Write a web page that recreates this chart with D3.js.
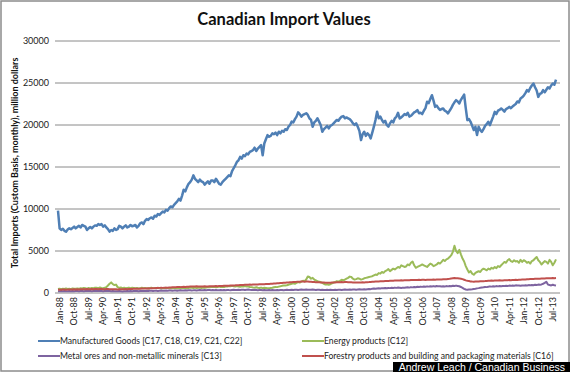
<!DOCTYPE html>
<html>
<head>
<meta charset="utf-8">
<script src="https://cdn.jsdelivr.net/npm/d3@7"></script>
<style>
  body { margin: 0; background: #fff; }
  svg { display: block; font-family: Lato, "Open Sans", sans-serif; }
</style>
</head>
<body>
<svg id="chart" width="570" height="372"></svg>
<script>
// monthly values, Jan-88 .. Oct-13, million dollars
const manufactured = [
  9800, 7700, 7500, 7650, 7400, 7300, 7550, 7700, 7600, 7750, 7900, 7700,
  7850, 8000, 7800, 8100, 8000, 7900, 7500, 7700, 7850, 7700, 7900, 8050,
  8000, 8200, 8100, 8200, 7900, 8050, 7800, 7600, 7300, 7500, 7400, 7700,
  7500, 7600, 8000, 7900, 7700, 7900, 8050, 7800, 7900, 8100, 7950, 8000,
  8100, 7800, 8000, 8300, 8400, 8200, 8600, 8800, 8700, 8900, 9000, 8850,
  9200, 9100, 9400, 9300, 9500, 9700, 9600, 9900, 9800, 10100, 10300, 10200,
  10500, 10700, 10900, 11200, 11000, 11600, 12300, 12100, 12600, 13000, 13200, 13500,
  14000, 13600, 13400, 13200, 13500, 13300, 13200, 12900, 13100, 13300, 13000, 13400,
  13400, 13200, 13600, 13300, 13000, 12900, 13200, 13400, 13600, 13800, 14000, 13900,
  14500, 14850, 15200, 15600, 15800, 16200, 16000, 16400, 16300, 16600, 16500, 16800,
  16900, 17000, 17300, 16900, 17200, 17400, 17600, 16400, 17800, 18300, 18800, 18600,
  18700, 19000, 18900, 19100, 18800, 19200, 19000, 19300, 19200, 19500, 19400, 19800,
  20000, 20400, 20300, 20700, 21000, 21500, 21300, 21000, 21200, 21300, 21400, 21200,
  20800, 20600, 19800, 20300, 20500, 20800, 20400, 20000, 19200, 19500, 19700, 19900,
  19600, 19900, 20000, 20200, 20400, 20600, 20500, 20800, 21000, 21060, 20800, 20900,
  20800, 20700, 20500, 20200, 20000, 20200, 19800, 19300, 18200, 18900, 19200, 18700,
  19000, 18800, 18400, 19100, 19800, 20600, 21570, 20800, 21000, 20600, 20300, 20500,
  20000, 19800, 20200, 20500, 20300, 20800, 21000, 21450, 20780, 20900, 21100, 21300,
  21200, 21450, 21000, 21100, 21300, 21500, 21600, 21770, 21400, 21450, 21300, 21700,
  22000, 22760, 22600, 23100, 23550, 22900, 22160, 22300, 22000, 21800, 21900, 21970,
  21700, 21600, 21380, 21700, 22000, 22400, 22700, 22960, 22800, 22560, 23000, 23300,
  23630, 22000, 20580, 20700, 20380, 19900, 19400, 19800, 18800, 19780, 19400, 19190,
  19500, 19900, 20100, 20380, 19990, 20500, 21000, 21570, 21300, 21700, 21800, 21970,
  21800, 21600, 21900, 22000, 22160, 22000, 22200, 22360, 22500, 22800, 22700, 23160,
  23300, 23500, 23800, 24150, 24000, 24400, 24700, 24940, 24500, 24100, 23350, 23700,
  23800, 24150, 23900, 24200, 24500, 24350, 24700, 24940, 24800, 25400
];

const energy = [
  480, 520, 450, 500, 470, 530, 490, 510, 460, 540, 500, 520,
  550, 500, 580, 530, 600, 560, 520, 590, 550, 610, 580, 640,
  620, 580, 650, 600, 560, 620, 700, 900, 1100, 1260, 1050, 950,
  1000, 700, 600, 650, 580, 620, 560, 600, 640, 580, 620, 600,
  560, 600, 540, 580, 620, 560, 600, 580, 540, 600, 620, 580,
  600, 560, 620, 580, 540, 600, 560, 620, 580, 550, 600, 570,
  560, 600, 540, 580, 560, 620, 600, 580, 560, 600, 640, 620,
  600, 640, 580, 620, 660, 600, 640, 620, 660, 700, 680, 720,
  700, 740, 680, 720, 760, 700, 740, 720, 780, 760, 820, 800,
  850, 800, 760, 820, 780, 740, 800, 760, 820, 780, 760, 720,
  700, 660, 640, 680, 620, 600, 640, 580, 620, 600, 560, 580,
  600, 620, 680, 720, 700, 760, 800, 850, 880, 900, 920, 980,
  1050, 1100, 1150, 1100, 1200, 1300, 1250, 1350, 1450, 1400, 1600, 1970,
  1900, 1700, 1800, 1600, 1500, 1400, 1350, 1300, 1200, 1100, 1000, 1050,
  990, 1050, 1150, 1250, 1300, 1400, 1350, 1450, 1580, 1500, 1600, 1700,
  1800, 1950, 1900, 1700, 1600, 1650, 1750, 1700, 1600, 1650, 1750, 1800,
  1850, 1900, 1950, 2000, 2100, 2200, 2150, 2370, 2300, 2500, 2400, 2600,
  2700, 2850, 2600, 2750, 2900, 2800, 2950, 3100, 3000, 3300, 3200, 3100,
  3160, 3400, 3300, 3600, 3750, 3300, 3000, 3100, 3200, 3300, 3400, 3300,
  3200, 3100, 3300, 3500, 3400, 3200, 3300, 3400, 3600, 3500, 3700, 3950,
  3800, 4000, 4100, 4280, 4500, 4900, 5620, 5000, 4750, 5140, 4600, 4100,
  3750, 3200, 2800, 2450, 2600, 2300, 2170, 2400, 2500, 2600, 2500, 2770,
  2900, 2800, 2700, 2900, 2800, 3000, 2900, 3100, 2950, 3200, 3100, 3300,
  3500, 3700, 3600, 3900, 4040, 3800, 3700, 3900, 3750, 3800, 3600, 3950,
  3700, 3900, 3800, 3600, 3700, 3500, 3800, 3900, 4100, 4280, 3900, 3700,
  3400, 3600, 3800, 3700, 3500, 3950, 3700, 3300, 3600, 4000
];

const metalOres = [
  220, 200, 230, 210, 240, 220, 200, 230, 210, 240, 220, 230,
  240, 220, 250, 230, 210, 240, 260, 230, 250, 220, 240, 260,
  250, 230, 260, 240, 220, 250, 230, 260, 240, 220, 230, 210,
  220, 200, 230, 210, 190, 220, 200, 230, 210, 240, 220, 230,
  230, 250, 220, 240, 260, 230, 250, 270, 240, 260, 280, 250,
  260, 280, 250, 270, 290, 260, 280, 300, 270, 290, 310, 280,
  290, 310, 280, 300, 320, 290, 310, 330, 300, 320, 340, 310,
  320, 340, 310, 330, 350, 320, 340, 360, 330, 350, 370, 340,
  350, 330, 360, 340, 320, 350, 330, 360, 340, 370, 350, 340,
  360, 380, 350, 370, 390, 360, 380, 400, 370, 390, 410, 380,
  370, 350, 380, 360, 340, 370, 350, 330, 360, 340, 320, 350,
  330, 350, 320, 340, 360, 330, 350, 370, 340, 360, 380, 350,
  370, 390, 360, 380, 400, 370, 390, 410, 380, 400, 420, 390,
  400, 380, 410, 390, 370, 400, 380, 360, 390, 370, 350, 380,
  360, 380, 350, 370, 390, 360, 380, 400, 370, 390, 410, 380,
  400, 420, 390, 410, 430, 400, 420, 440, 410, 430, 450, 420,
  450, 480, 460, 500, 530, 500, 540, 570, 540, 580, 560, 590,
  570, 600, 580, 620, 600, 640, 610, 650, 630, 600, 640, 620,
  650, 680, 640, 700, 670, 720, 690, 740, 710, 760, 730, 780,
  750, 790, 760, 800, 770, 820, 780, 830, 790, 810, 770, 800,
  780, 820, 790, 840, 810, 860, 830, 880, 840, 800, 720, 620,
  500, 420, 390, 410, 430, 450, 480, 510, 550, 580, 620, 650,
  680, 720, 700, 750, 790, 760, 800, 780, 820, 790, 830, 810,
  840, 820, 860, 840, 880, 850, 890, 870, 910, 880, 900, 870,
  900, 880, 920, 890, 940, 910, 960, 930, 980, 950, 1000, 970,
  1020, 1100, 1200, 1340, 1000, 950, 900, 980, 920, 890
];

const forestry = [
  380, 400, 390, 410, 420, 400, 410, 430, 420, 410, 440, 430,
  440, 430, 450, 460, 440, 450, 470, 460, 450, 470, 460, 480,
  470, 460, 480, 470, 450, 460, 480, 470, 460, 450, 440, 450,
  440, 430, 450, 460, 440, 450, 470, 460, 480, 470, 490, 500,
  500, 510, 520, 510, 530, 540, 530, 550, 560, 550, 570, 580,
  580, 600, 590, 610, 620, 610, 630, 640, 630, 650, 660, 670,
  680, 690, 700, 710, 700, 720, 730, 720, 740, 750, 760, 770,
  780, 770, 790, 780, 760, 770, 780, 790, 770, 780, 800, 790,
  800, 810, 820, 810, 830, 840, 830, 850, 860, 850, 870, 880,
  890, 900, 910, 930, 920, 940, 950, 960, 970, 980, 990, 1000,
  990, 1000, 1010, 1020, 1010, 1030, 1040, 1030, 1050, 1060, 1070, 1080,
  1090, 1100, 1120, 1130, 1150, 1160, 1180, 1190, 1210, 1220, 1240, 1250,
  1270, 1280, 1300, 1320, 1330, 1350, 1340, 1360, 1370, 1350, 1380, 1360,
  1340, 1330, 1310, 1300, 1290, 1280, 1270, 1260, 1250, 1240, 1230, 1220,
  1210, 1220, 1240, 1250, 1260, 1270, 1280, 1290, 1300, 1290, 1310, 1300,
  1290, 1280, 1270, 1260, 1250, 1240, 1250, 1260, 1250, 1270, 1260, 1280,
  1290, 1300, 1320, 1330, 1340, 1360, 1370, 1380, 1390, 1400, 1410, 1420,
  1430, 1440, 1450, 1460, 1470, 1480, 1490, 1500, 1490, 1510, 1500, 1520,
  1520, 1530, 1520, 1540, 1550, 1540, 1560, 1550, 1570, 1560, 1580, 1570,
  1560, 1570, 1580, 1590, 1580, 1600, 1590, 1610, 1600, 1620, 1610, 1630,
  1640, 1650, 1670, 1690, 1720, 1750, 1780, 1770, 1760, 1740, 1700, 1650,
  1580, 1500, 1450, 1420, 1380, 1360, 1350, 1370, 1380, 1360, 1390, 1400,
  1410, 1420, 1440, 1450, 1460, 1480, 1470, 1490, 1500, 1490, 1510, 1500,
  1500, 1510, 1520, 1530, 1540, 1530, 1550, 1560, 1570, 1560, 1580, 1590,
  1600, 1610, 1620, 1640, 1650, 1660, 1670, 1680, 1690, 1700, 1690, 1710,
  1720, 1730, 1740, 1750, 1760, 1770, 1760, 1780, 1770, 1790
];

const tickLabels = [
  "Jan-88", "Oct-88", "Jul-89", "Apr-90", "Jan-91", "Oct-91", "Jul-92", "Apr-93",
  "Jan-94", "Oct-94", "Jul-95", "Apr-96", "Jan-97", "Oct-97", "Jul-98", "Apr-99",
  "Jan-00", "Oct-00", "Jul-01", "Apr-02", "Jan-03", "Oct-03", "Jul-04", "Apr-05",
  "Jan-06", "Oct-06", "Jul-07", "Apr-08", "Jan-09", "Oct-09", "Jul-10", "Apr-11",
  "Jan-12", "Oct-12", "Jul-13"
];

const yTicks = [0, 5000, 10000, 15000, 20000, 25000, 30000];

const seriesNames = [
  "Manufactured Goods [C17, C18, C19, C21, C22]",
  "Energy products [C12]",
  "Metal ores and non-metallic minerals [C13]",
  "Forestry products and building and packaging materials [C16]"
];

// month categories
const fmt = d3.timeFormat("%b-%y");
const months = d3.timeMonth.range(new Date(1988, 0, 1), new Date(1988, manufactured.length, 1))
  .map(fmt);

const svg = d3.select("#chart");
const W = 570, H = 372;

// frame
svg.append("rect")
  .attr("x", 1).attr("y", 1)
  .attr("width", W - 2).attr("height", H - 2)
  .attr("fill", "#fff")
  .attr("stroke", "#8c8c8c")
  .attr("stroke-width", 1.5);

let x = d3.scalePoint()
  .domain(months)
  .range([58, 556]);

let y = d3.scaleLinear()
  .domain([0, 30000])
  .range([293, 41]);

// gridlines
svg.append("g")
  .selectAll("line")
  .data(yTicks)
  .join("line")
  .attr("x1", 55).attr("x2", 560)
  .attr("y1", d => y(d)).attr("y2", d => y(d))
  .attr("stroke", "#8a8a8a")
  .attr("stroke-width", 1);

// Y axis labels
let yAxisCall = d3.axisLeft(y)
  .tickValues(yTicks)
  .tickSize(0)
  .tickPadding(0)
  .tickFormat(d => d);
let yAxisGroup = svg.append("g")
  .attr("transform", "translate(49,0)")
  .call(yAxisCall);
yAxisGroup.select(".domain").remove();
yAxisGroup.selectAll("text")
  .attr("font-size", "9px")
  .attr("font-family", "Lato, sans-serif")
  .attr("fill", "#222");

// X axis labels
let xAxisCall = d3.axisBottom(x)
  .tickValues(tickLabels)
  .tickSize(0)
  .tickPadding(0);
let xAxisGroup = svg.append("g")
  .attr("transform", "translate(0,297)")
  .call(xAxisCall);
xAxisGroup.select(".domain").remove();
xAxisGroup.selectAll("text")
  .attr("font-size", "9px")
  .attr("font-family", "Lato, sans-serif")
  .attr("fill", "#222")
  .attr("text-anchor", "end")
  .attr("dy", "0.32em")
  .attr("transform", "rotate(-90)")
  .attr("x", 0)
  .attr("y", 0);
xAxisGroup.selectAll(".tick")
  .attr("transform", d => "translate(" + (x(d) + 2) + ",0)");

// series lines
const series = [
  { name: seriesNames[0], values: manufactured, color: "#4f7fb5", width: 2.5 },
  { name: seriesNames[1], values: energy, color: "#9bbb59", width: 2 },
  { name: seriesNames[2], values: metalOres, color: "#7e64a0", width: 2 },
  { name: seriesNames[3], values: forestry, color: "#c0504d", width: 2 }
];

const line = d3.line()
  .x((d, i) => x(months[i]))
  .y(d => y(d));

svg.append("g")
  .selectAll("path")
  .data(series)
  .join("path")
  .attr("d", d => line(d.values))
  .attr("fill", "none")
  .attr("stroke", d => d.color)
  .attr("stroke-width", d => d.width)
  .attr("stroke-linejoin", "round");

// title
svg.append("text")
  .attr("x", 284)
  .attr("y", 25)
  .attr("text-anchor", "middle")
  .attr("font-size", "16.5px")
  .attr("font-weight", "bold")
  .attr("fill", "#111")
  .text("Canadian Import Values");

// Y label
svg.append("text")
  .attr("transform", "translate(18,163) rotate(-90)")
  .attr("text-anchor", "middle")
  .attr("font-size", "9px")
  .attr("font-weight", "bold")
  .attr("fill", "#111")
  .text("Total Imports (Custom Basis, monthly), million dollars");

// legend
const legendPos = [[38, 341], [302, 341], [38, 356], [302, 356]];
const legend = svg.append("g")
  .selectAll("g")
  .data(series)
  .join("g")
  .attr("transform", (d, i) => "translate(" + legendPos[i][0] + "," + legendPos[i][1] + ")");
legend.append("line")
  .attr("x1", 0).attr("x2", 22)
  .attr("stroke", d => d.color)
  .attr("stroke-width", 2);
legend.append("text")
  .attr("x", 22)
  .attr("dy", "0.35em")
  .attr("font-size", "8.6px")
  .attr("fill", "#222")
  .text(d => d.name);

// credit box
svg.append("rect")
  .attr("x", 393).attr("y", 362)
  .attr("width", 177).attr("height", 10)
  .attr("fill", "#000");
svg.append("text")
  .attr("x", 565).attr("y", 371)
  .attr("text-anchor", "end")
  .attr("font-family", "Liberation Sans, Arial, sans-serif")
  .attr("font-size", "10.5px")
  .attr("fill", "#fff")
  .text("Andrew Leach / Canadian Business");
</script>
</body>
</html>
